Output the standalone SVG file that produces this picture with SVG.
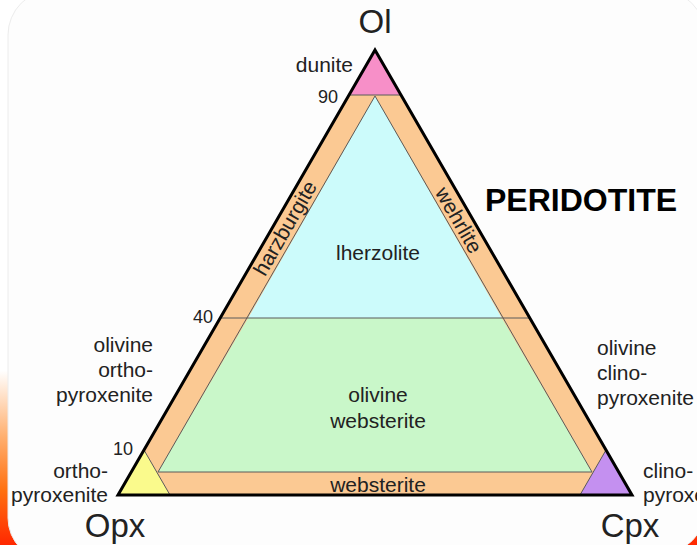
<svg xmlns="http://www.w3.org/2000/svg" width="697" height="545" viewBox="0 0 697 545">
<defs>
<linearGradient id="bg" x1="0" y1="0" x2="0" y2="545" gradientUnits="userSpaceOnUse">
<stop offset="0.68" stop-color="#ffffff"/>
<stop offset="0.8" stop-color="#ffb070"/>
<stop offset="0.9" stop-color="#ff7010"/>
<stop offset="1" stop-color="#ff2800"/>
</linearGradient>
<style>
text{font-family:"Liberation Sans",Arial,Helvetica,sans-serif;fill:#222;}
.lbl{font-size:21px;}
.num{font-size:18px;}
.big{font-size:33px;}
.thin{stroke:#5a5a5a;stroke-width:1;fill:none;}
</style>
</defs>
<rect width="697" height="545" fill="url(#bg)"/>
<path d="M8,35 A45,45 0 0 1 53,-10 H660 A45,45 0 0 1 705,35 V510 A43,43 0 0 1 662,553 L51,561 A43,43 0 0 1 8,518 Z" fill="#fdfdfd" stroke="#ececec" stroke-width="1"/>

<g id="band">
<polygon points="375,50 118,495 632,495" fill="#fbc993"/>
</g>
<g id="fields">
<polygon id="lherzolite" points="375,96 248.2,318 501.8,318" fill="#ccfbfb"/>
<polygon id="olivine-websterite" points="248.2,318 501.8,318 592,472 158,472" fill="#c9f7c9"/>
<polygon id="dunite" points="375,50 349,95 401,95" fill="#f78fc8"/>
<polygon id="orthopyroxenite" points="118,495 170,495 144,450" fill="#fafa8c"/>
<polygon id="clinopyroxenite" points="632,495 580,495 606,450" fill="#c490f0"/>
</g>
<g id="connectors">
<polygon class="thin" points="375,96 158,472 592,472"/>
<line class="thin" x1="220" y1="318" x2="530" y2="318"/>
<line class="thin" x1="349" y1="95" x2="401" y2="95"/>
<line class="thin" x1="144" y1="450" x2="170" y2="495"/>
<line class="thin" x1="606" y1="450" x2="580" y2="495"/>
<polygon points="375,50 118,495 632,495" fill="none" stroke="#000" stroke-width="3" stroke-linejoin="miter"/>
</g>
<g id="labels">
<text class="big" x="375" y="33" text-anchor="middle">Ol</text>
<text class="lbl" x="353" y="72" text-anchor="end">dunite</text>
<text class="num" x="338" y="103" text-anchor="end">90</text>
<text class="lbl" transform="translate(285,228) rotate(-60)" text-anchor="middle" dy="0.35em">harzburgite</text>
<text class="lbl" transform="translate(459,220) rotate(60)" text-anchor="middle" dy="0.35em">wehrlite</text>
<text x="485" y="211" style="font-size:32px;font-weight:bold;fill:#000">PERIDOTITE</text>
<text class="lbl" x="378" y="260" text-anchor="middle">lherzolite</text>
<text class="num" x="213" y="323" text-anchor="end">40</text>
<text class="lbl" text-anchor="end"><tspan x="153" y="352">olivine</tspan><tspan x="153" y="377">ortho-</tspan><tspan x="153" y="402">pyroxenite</tspan></text>
<text class="lbl" x="597"><tspan x="597" y="355">olivine</tspan><tspan x="597" y="380">clino-</tspan><tspan x="597" y="405">pyroxenite</tspan></text>
<text class="lbl" text-anchor="middle"><tspan x="378" y="402">olivine</tspan><tspan x="378" y="428">websterite</tspan></text>
<text class="num" x="133" y="455" text-anchor="end">10</text>
<text class="lbl" text-anchor="end"><tspan x="108" y="478">ortho-</tspan><tspan x="108" y="502">pyroxenite</tspan></text>
<text class="lbl" x="378" y="492" text-anchor="middle">websterite</text>
<text class="lbl"><tspan x="643" y="478">clino-</tspan><tspan x="643" y="502">pyroxenite</tspan></text>
<text class="big" x="115" y="537" text-anchor="middle">Opx</text>
<text class="big" x="630" y="537" text-anchor="middle">Cpx</text>
</g>
</svg>
